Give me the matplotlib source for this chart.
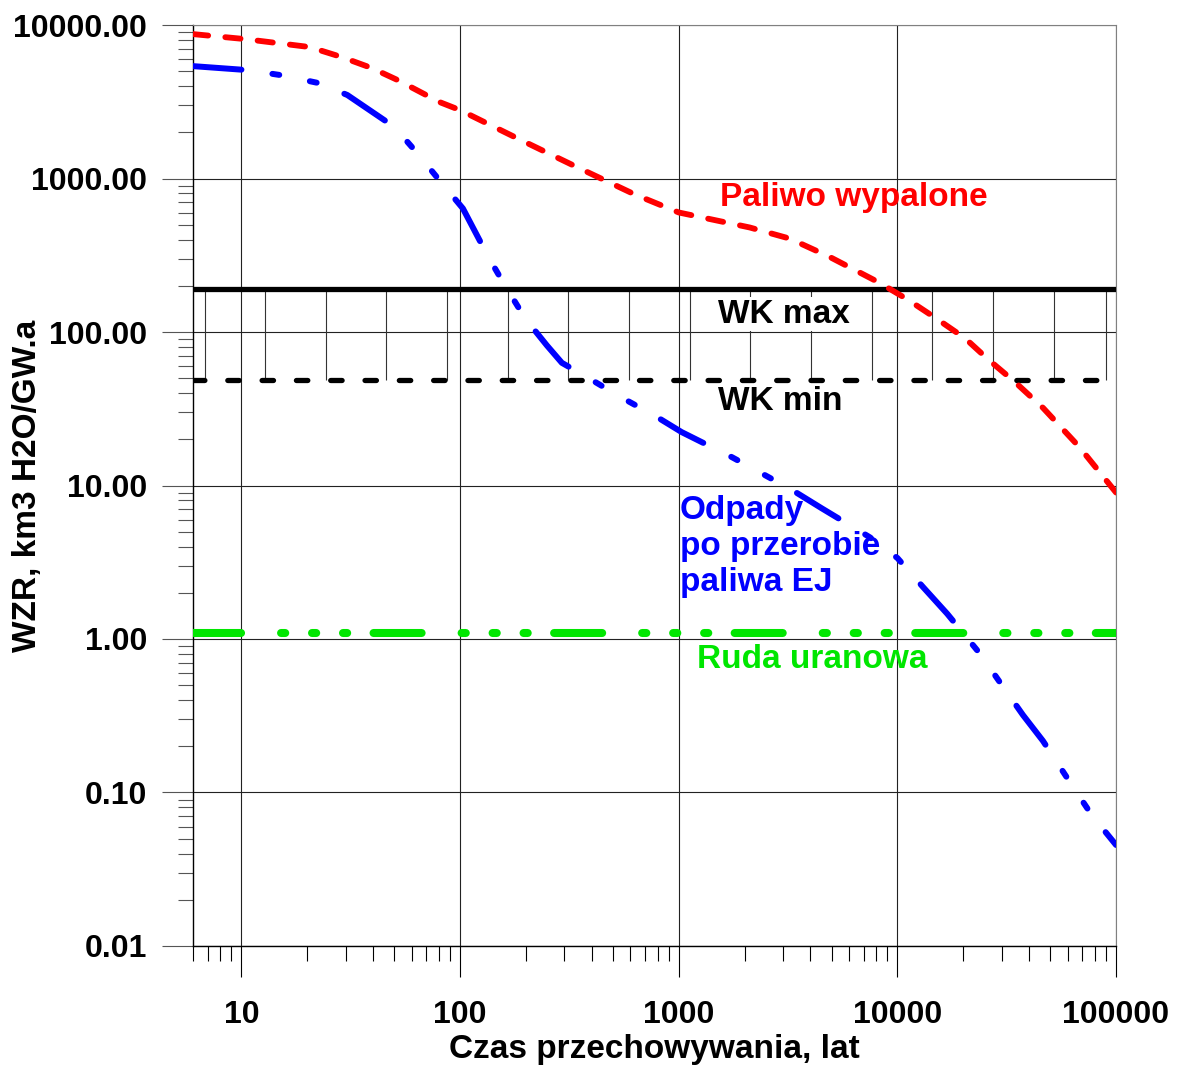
import numpy as np
import matplotlib
matplotlib.use("Agg")
import matplotlib.pyplot as plt
from matplotlib.ticker import FixedLocator, FuncFormatter, LogLocator, NullFormatter

plt.rcParams['font.family'] = ['Liberation Sans', 'DejaVu Sans']
plt.rcParams['font.weight'] = 'bold'
plt.rcParams['lines.scale_dashes'] = False

# Paliwo wypalone (spent fuel)
fuel_t = [6, 10.4, 14.5, 20.5, 28.7, 39.4, 51.8, 80.5, 100, 181, 341, 630, 1000,
          2110, 3220, 4870, 8300, 11200, 15000, 20400, 26200, 34500, 46400, 68000, 100000]
fuel_v = [8730, 8100, 7640, 7190, 6190, 5250, 4380, 3150, 2790, 1840, 1190, 787, 601,
          480, 406, 310, 209, 162, 123, 91, 65.7, 47.2, 32, 17.8, 9.0]

# Odpady po przerobie paliwa EJ (reprocessing waste)
waste_t = [6, 10.6, 15.1, 22.5, 30.5, 50, 63, 82, 103, 135, 161, 199, 249, 292, 388, 537,
           793, 1030, 1750, 2370, 3360, 4510, 7480, 10000, 13100, 16900, 23900, 29500,
           37500, 46300, 63500, 77600, 100000]
waste_v = [5400, 5090, 4720, 4190, 3500, 2170, 1490, 942, 638, 306, 199, 122, 82, 63, 50, 38,
           28, 22.3, 15.3, 12.1, 9.2, 7.1, 4.6, 3.37, 2.18, 1.46, 0.80, 0.52, 0.32,
           0.217, 0.109, 0.071, 0.0455]

# reference levels
ore_level = 1.1
wk_max = 190
wk_min = 49
t_range = [6, 100000]
# hatch lines between WK max and WK min
hatch_t = [6.8, 12.8, 24.3, 46, 87, 165, 313, 593, 1120, 2125, 4030, 7630,
           14400, 27400, 51800, 90000]

x_ticks = [10, 100, 1000, 10000, 100000]
y_ticks = [0.01, 0.1, 1, 10, 100, 1000, 10000]

fig = plt.figure(figsize=(11.78, 10.66), dpi=100)
ax = fig.add_axes([0.1638, 0.1126, 0.7836, 0.8639])
ax.set_xscale('log')
ax.set_yscale('log')
ax.set_xlim(6, 100000)
ax.set_ylim(0.01, 10000)

ax.grid(True, which='major', color='#222222', lw=0.8, zorder=0)
ax.set_axisbelow(True)

ax.vlines(hatch_t, wk_min, wk_max, color='#333333', lw=0.8, zorder=1)

ax.plot(t_range, [wk_max, wk_max], color='black', lw=3.8, solid_capstyle='round', zorder=3)
ax.plot(t_range, [wk_min, wk_min], color='black', lw=3.8, dash_capstyle='round',
        dashes=(8.2, 16.5), zorder=3)
ax.plot(t_range, [ore_level, ore_level], color='#00e600', lw=5.8, dash_capstyle='round',
        dashes=(34.6, 28.8, 3, 19.3, 3, 19.3, 3, 19), zorder=3)
ax.plot(fuel_t, fuel_v, color='red', lw=4.2, dash_capstyle='round',
        dashes=(11.0, 12.4), zorder=4)
ax.plot(waste_t, waste_v, color='blue', lw=4.3, dash_capstyle='round',
        dashes=(35, 22.5, 5, 22.5, 5, 21.5), zorder=4)

fs = 24
ax.text(1540, 752, 'Paliwo wypalone', color='red', fontsize=fs, ha='left', va='center')
ax.text(1510, 131, 'WK max', color='black', fontsize=fs, ha='left', va='center',
        bbox=dict(facecolor='white', edgecolor='none', pad=1), zorder=2)
ax.text(1510, 35.5, 'WK min', color='black', fontsize=fs, ha='left', va='center')
ax.text(1010, 4.0, 'Odpady\npo przerobie\npaliwa EJ', color='blue', fontsize=fs,
        ha='left', va='center', linespacing=1.2)
ax.text(1210, 0.73, 'Ruda uranowa', color='#00e600', fontsize=fs, ha='left', va='center')

ax.xaxis.set_major_locator(FixedLocator(x_ticks))
ax.xaxis.set_major_formatter(FuncFormatter(lambda v, p: f'{v:.0f}'))
ax.xaxis.set_minor_locator(LogLocator(base=10, subs=np.arange(2, 10), numticks=20))
ax.xaxis.set_minor_formatter(NullFormatter())
ax.yaxis.set_major_locator(FixedLocator(y_ticks))
ax.yaxis.set_major_formatter(FuncFormatter(lambda v, p: f'{v:.2f}'))
ax.yaxis.set_minor_locator(LogLocator(base=10, subs=np.arange(2, 10), numticks=20))
ax.yaxis.set_minor_formatter(NullFormatter())

ax.tick_params(axis='both', which='major', direction='out', length=22, width=0.8,
               labelsize=23)
ax.tick_params(axis='both', which='minor', direction='out', length=11, width=0.8)
ax.tick_params(axis='x', which='major', pad=17)
ax.tick_params(axis='y', which='both', colors='#555555', labelcolor='black')
ax.tick_params(axis='y', which='major', pad=11)

for s in ['top', 'right']:
    ax.spines[s].set_color('#808080')
for s in ['left', 'bottom']:
    ax.spines[s].set_color('black')
    ax.spines[s].set_linewidth(1.0)

ax.set_xlabel('Czas przechowywania, lat', fontsize=24, fontweight='bold', labelpad=3)
ax.set_ylabel('WZR, km3 H2O/GW.a', fontsize=24, fontweight='bold', va='center')
ax.yaxis.set_label_coords(-0.179, 0.5)

fig.savefig('out.png', dpi=100)
